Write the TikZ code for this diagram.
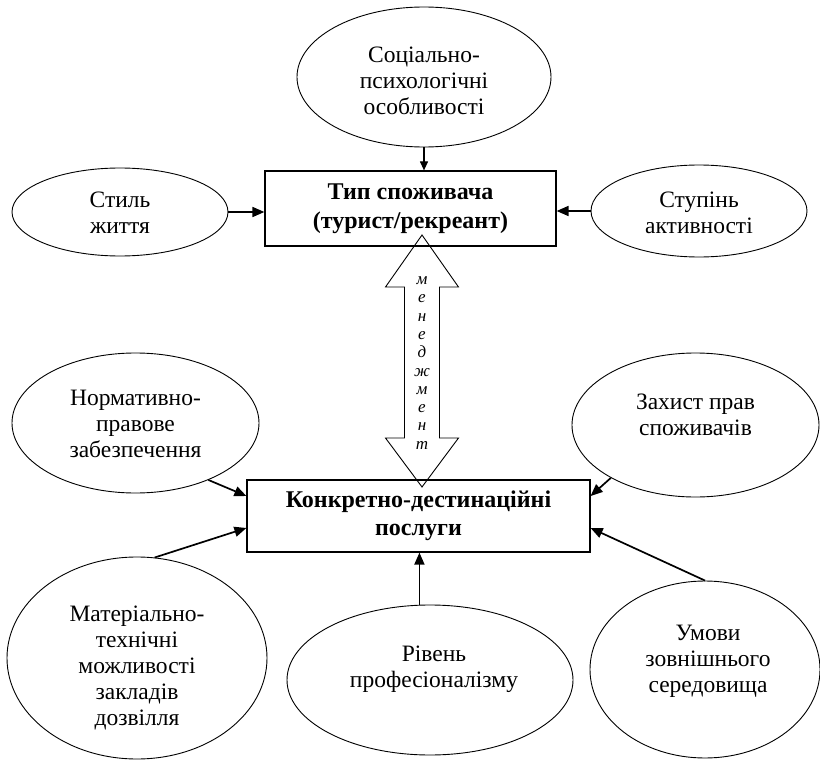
\documentclass[tikz,border=0pt]{standalone}
\usepackage{fontspec}
\setmainfont{Liberation Serif}
\usetikzlibrary{arrows.meta,calc,shapes.geometric}
\begin{document}
\begin{tikzpicture}[x=1pt,y=-1pt,
  ell/.style={draw, ellipse, line width=0.9pt, inner sep=0pt},
  txt/.style={align=center, inner sep=0pt, font=\fontsize{23.5}{26}\selectfont},
  boxnode/.style={draw, line width=1.2pt, inner sep=0pt, align=center,
    font=\bfseries\fontsize{24}{28.5}\selectfont},
  arr/.style={line width=1.7pt, -{Triangle[length=12pt,width=10pt]}},
  arrthin/.style={line width=1.1pt, -{Triangle[length=9pt,width=8pt]}},
  dbl/.style={draw, line width=0.9pt, line join=miter}
]
\useasboundingbox (0,0) rectangle (820,760);

% ellipses
\node[ell, minimum width=254pt, minimum height=140pt] (soc) at (424,77) {};
\node[txt] (soct) at (424,81) {Соціально-\\психологічні\\особливості};

\node[ell, minimum width=216pt, minimum height=88pt] (styl) at (120,212) {};
\node[txt] (stylt) at (120,213) {Стиль\\життя};

\node[ell, minimum width=216pt, minimum height=92pt] (stup) at (699,211) {};
\node[txt] (stupt) at (699,213) {Ступінь\\активності};

\node[ell, minimum width=247pt, minimum height=140pt] (norm) at (135.5,423) {};
\node[txt] (normt) at (135.5,424) {Нормативно-\\правове\\забезпечення};

\node[ell, minimum width=247pt, minimum height=144pt] (zah) at (695.5,425) {};
\node[txt] (zaht) at (695.5,415) {Захист прав\\споживачів};

\node[ell, minimum width=260pt, minimum height=202pt] (mat) at (137,658) {};
\node[txt] (matt) at (137,668) {Матеріально-\\технічні\\можливості\\закладів\\дозвілля};

\node[ell, minimum width=286pt, minimum height=150pt] (riv) at (430,680) {};
\node[txt] (rivt) at (434,669) {Рівень\\професіоналізму};

\node[ell, minimum width=230pt, minimum height=177pt] (umo) at (705,669.5) {};
\node[txt] (umot) at (708,661) {Умови\\зовнішнього\\середовища};

% double arrow "менеджмент"
\coordinate (mt) at (422,235);
\coordinate (mb) at (422,487);
\draw[dbl] (mt) -- ++(36.5,52) -- ++(-19,0) -- ++(0,151) -- ++(19,0)
  -- (mb) -- ++(-36.5,-49) -- ++(19,0) -- ++(0,-151) -- ++(-19,0) -- cycle;
\node[align=center, inner sep=0pt, font=\itshape\fontsize{17}{18.3}\selectfont]
  (men) at (422,363) {м\\е\\н\\е\\д\\ж\\м\\е\\н\\т};

% boxes
\node[boxnode, minimum width=291pt, minimum height=75pt] (tip) at (410.5,208.5)
  {Тип споживача\\(турист/рекреант)};
\node[boxnode, minimum width=343pt, minimum height=72pt] (konk) at (418.5,516)
  {Конкретно-дестинаційні\\послуги};

% connectors
\draw[arrthin] (soc.south) -- (soc.south |- tip.north);
\draw[arr] (styl.east) -- (styl.east -| tip.west);
\draw[arr] (stup.west) -- (stup.west -| tip.east);
\draw[arr] (norm.-38) -- ([yshift=20pt]konk.west);
\draw[arr] (mat.80) -- ([yshift=-12pt]konk.west);
\draw[arr] (zah.212) -- ([yshift=20pt]konk.east);
\draw[arr] (umo.north) -- ([yshift=-12pt]konk.east);
\draw[arr] (riv.98) -- (riv.98 |- konk.south);
\end{tikzpicture}
\end{document}
